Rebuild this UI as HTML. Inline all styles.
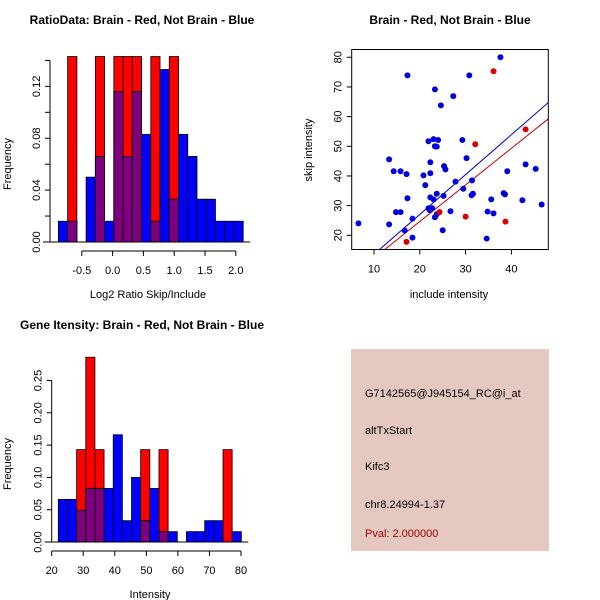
<!DOCTYPE html>
<html><head><meta charset="utf-8"><style>
body{margin:0;background:#fff}
svg{display:block;font-family:"Liberation Sans",sans-serif}
</style></head><body>
<svg id="c" width="600" height="600" viewBox="0 0 600 600">
<rect x="0" y="0" width="600" height="600" fill="#fff"/>
<g id="p1"></g>
<g id="p2"></g>
<g id="p3"></g>
<g>
<rect x="351" y="349" width="198" height="202" fill="#e5c8c0"/>
<text x="365" y="397" font-size="11">G7142565@J945154_RC@i_at</text>
<text x="365" y="434" font-size="11">altTxStart</text>
<text x="365" y="470" font-size="11">Kifc3</text>
<text x="365" y="508" font-size="11">chr8.24994-1.37</text>
<text x="365" y="537" font-size="11" fill="#a00000">Pval: 2.000000</text>
</g>
</svg>
<script>
// Histogram 1: log2 ratio
const h1Start = -0.88, h1Width = 0.15;
const h1Blue = [0.016,0.016,0,0.05,0.066,0.016,0.116,0.066,0.116,0.083,0.016,0.133,0.033,0.083,0.066,0.033,0.033,0.016,0.016,0.016];
const h1Red  = [0,0.143,0,0,0.143,0,0.143,0.143,0.143,0,0.143,0,0.143,0,0,0,0,0,0,0];
const h1XTicks = [-0.5,0,0.5,1,1.5,2];
const h1XLabels = ["-0.5","0.0","0.5","1.0","1.5","2.0"];
const h1YTicks = [0,0.02,0.04,0.06,0.08,0.1,0.12,0.14];
const h1YLabels = ["0.00","","0.04","","0.08","","0.12",""];
// Histogram 3: intensity
const h3Start = 22.1, h3Width = 2.9;
const h3Blue = [0.066,0.066,0.049,0.083,0.083,0.083,0.166,0.033,0.1,0.033,0.083,0.016,0.016,0,0.016,0.016,0.033,0.033,0,0.016];
const h3Red  = [0,0,0.143,0.286,0.143,0,0,0,0,0.143,0,0.143,0,0,0,0,0,0,0.143,0];
const h3XTicks = [20,30,40,50,60,70,80];
const h3XLabels = ["20","30","40","50","60","70","80"];
const h3YTicks = [0,0.05,0.1,0.15,0.2,0.25];
const h3YLabels = ["0.00","0.05","0.10","0.15","0.20","0.25"];
// Scatter
const blueX = [6.6,13.3,13.3,14.3,14.8,15.8,15.8,16.7,17.1,17.3,17.3,18.4,18.4,20.8,21.2,21.9,21.9,22.2,22.3,22.3,22.3,22.7,23,23,23.3,23.3,23.3,23.7,23.7,24,23.7,24.6,25,25.2,25.3,25.6,26.7,27.3,27.8,29.3,29.5,30.2,30.8,31.3,31.4,31.6,34.8,34.6,35.6,36.1,37.6,38.3,38.6,39.1,42.4,43.1,45.3,46.6];
const blueY = [24,23.7,45.6,41.6,27.8,41.6,27.8,21.6,40.6,73.9,32.5,25.6,19.2,40.2,36.9,51.7,29.1,28.5,40.9,44.6,32.8,29.1,52.4,32.1,69.2,50,26.1,49.9,34,52.1,27.1,63.8,21.7,33.3,43.3,42.2,28.1,66.9,38.1,52.1,35.7,46,73.9,33.5,38.5,34,28,18.9,32.1,27.4,80,34.2,33.8,41.6,31.8,43.9,42.4,30.4];
const redX = [17.1,24.3,30,32.1,36.1,38.7,43.1];
const redY = [17.8,27.8,26.3,50.7,75.3,24.6,55.7];
const fitSlope = [1.344,1.233];
const fitIntercept = [0.15,0];
const sXTicks = [10,20,30,40];
const sYTicks = [20,30,40,50,60,70,80];

const NS="http://www.w3.org/2000/svg";
function mk(parent,tag,attrs,txt){const e=document.createElementNS(NS,tag);for(const k in attrs)e.setAttribute(k,attrs[k]);if(txt!==undefined)e.textContent=txt;parent.appendChild(e);return e;}

function hist(g,o){
  const sx=v=>o.x0+(v-o.xv0)*o.xs, sy=v=>o.y0-v*o.ys;
  for(let i=0;i<o.blue.length;i++){
    const a=o.start+i*o.w,b=a+o.w,x=sx(a),wd=sx(b)-sx(a);
    const r=o.red[i],bl=o.blue[i];
    if(r>0){const e=mk(g,'rect',{x:x,y:sy(r),width:wd,height:sy(0)-sy(r),fill:'#ff0000',stroke:'#000','stroke-width':0.8});
      
      }
    if(bl>0){const e=mk(g,'rect',{x:x,y:sy(bl),width:wd,height:sy(0)-sy(bl),fill:'#0000ff',stroke:'#000','stroke-width':0.8});
      
      }
    if(r>0&&bl>0){const m=Math.min(r,bl);const e=mk(g,'rect',{x:x,y:sy(m),width:wd,height:sy(0)-sy(m),fill:'#7f007f',stroke:'#000','stroke-width':0.8});
      
      }
  }
  const ya=o.ya;
  mk(g,'line',{x1:ya-7,x2:sx(o.start+o.blue.length*o.w)+7,y1:o.y0,y2:o.y0,stroke:'#000'});
  const xa=o.y0+9;
  mk(g,'line',{x1:sx(o.xt[0]),x2:sx(o.xt[o.xt.length-1]),y1:xa,y2:xa,stroke:'#000'});
  o.xt.forEach((t,i)=>{mk(g,'line',{x1:sx(t),x2:sx(t),y1:xa,y2:xa+5,stroke:'#000'});
    const e=mk(g,'text',{x:sx(t),y:xa+23,'font-size':11,'text-anchor':'middle'},o.xl[i]);
    
    });
  mk(g,'line',{x1:ya,x2:ya,y1:sy(o.yt[0]),y2:sy(o.yt[o.yt.length-1]),stroke:'#000'});
  o.yt.forEach((t,i)=>{mk(g,'line',{x1:ya-5,x2:ya,y1:sy(t),y2:sy(t),stroke:'#000'});
    if(o.yl[i]){const e=mk(g,'text',{x:0,y:0,'font-size':11,'text-anchor':'middle',transform:`translate(${ya-10},${sy(t)}) rotate(-90)`},o.yl[i]);
      
      }});
  const t=mk(g,'text',{x:o.tx,y:o.ty,'font-size':12,'font-weight':'bold','text-anchor':'middle'},o.title);
  
  
  const xl=mk(g,'text',{x:o.xlx,y:o.y0+56,'font-size':11,'text-anchor':'middle'},o.xlabel);
  
  
  const yl=mk(g,'text',{x:0,y:0,'font-size':11,'text-anchor':'middle',transform:`translate(11,${o.y0-78}) rotate(-90)`},'Frequency');
  
  
}
hist(document.getElementById('p1'),{x0:112.6,xv0:0,xs:61.6,ya:50,y0:242,ys:1297,start:h1Start,w:h1Width,blue:h1Blue,red:h1Red,xt:h1XTicks,xl:h1XLabels,yt:h1YTicks,yl:h1YLabels,title:'RatioData: Brain - Red, Not Brain - Blue',tx:142,ty:24,xlabel:'Log2 Ratio Skip/Include',xlx:148});
hist(document.getElementById('p3'),{x0:51.7,xv0:20,xs:3.155,ya:51.7,y0:542,ys:646,start:h3Start,w:h3Width,blue:h3Blue,red:h3Red,xt:h3XTicks,xl:h3XLabels,yt:h3YTicks,yl:h3YLabels,title:'Gene Itensity: Brain - Red, Not Brain - Blue',tx:142,ty:329,xlabel:'Intensity',xlx:150});

// Scatter
(function(){
  const g=document.getElementById('p2');
  const L=351.7,R=548.3,T=49.5,B=249.5;
  const sx=v=>374+(v-10)*4.58, sy=v=>235.3-(v-20)*2.967;
  mk(g,'clipPath',{id:'sc'});
  mk(g.querySelector('#sc'),'rect',{x:L,y:T,width:R-L,height:B-T});
  const cols=['#0000cc','#cc0000'];
  fitSlope.forEach((m,i)=>{const x1=5,x2=48.1;
    const e=mk(g,'line',{x1:sx(x1),y1:sy(fitIntercept[i]+m*x1),x2:sx(x2),y2:sy(fitIntercept[i]+m*x2),stroke:cols[i],'stroke-width':1,'clip-path':'url(#sc)'});
    
    });
  blueX.forEach((x,i)=>{const e=mk(g,'circle',{cx:sx(x),cy:sy(blueY[i]),r:3,fill:'#0000dd'});
    
    });
  redX.forEach((x,i)=>{const e=mk(g,'circle',{cx:sx(x),cy:sy(redY[i]),r:3,fill:'#dd0000'});
    
    });
  mk(g,'rect',{x:L,y:T,width:R-L,height:B-T,fill:'none',stroke:'#000'});
  sXTicks.forEach(t=>{mk(g,'line',{x1:sx(t),x2:sx(t),y1:B,y2:B+5,stroke:'#000'});
    const e=mk(g,'text',{x:sx(t),y:B+23,'font-size':11,'text-anchor':'middle'},String(t));
    
    });
  sYTicks.forEach(t=>{mk(g,'line',{x1:L-5,x2:L,y1:sy(t),y2:sy(t),stroke:'#000'});
    const e=mk(g,'text',{x:0,y:0,'font-size':11,'text-anchor':'middle',transform:`translate(${L-10},${sy(t)}) rotate(-90)`},String(t));
    
    });
  const t=mk(g,'text',{x:450,y:24,'font-size':12,'font-weight':'bold','text-anchor':'middle'},'Brain - Red, Not Brain - Blue');
  
  
  const xl=mk(g,'text',{x:449,y:298,'font-size':11,'text-anchor':'middle'},'include intensity');
  
  
  const yl=mk(g,'text',{x:0,y:0,'font-size':11,'text-anchor':'middle',transform:'translate(312,150) rotate(-90)'},'skip intensity');
  
  
})();
</script>
</body></html>
